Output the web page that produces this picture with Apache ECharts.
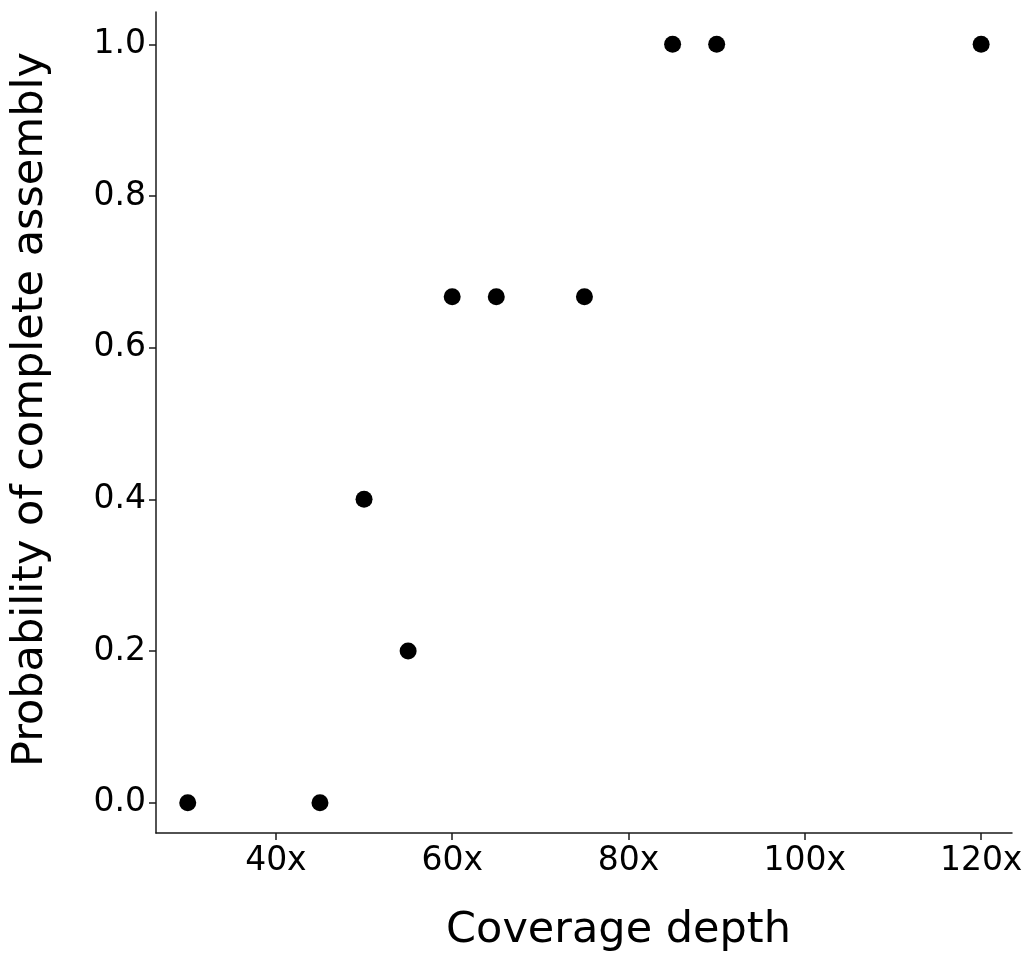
<!DOCTYPE html>
<html>
<head>
<meta charset="utf-8">
<script src="https://cdn.jsdelivr.net/npm/echarts@6/dist/echarts.min.js"></script>
<style>
html,body{margin:0;padding:0;background:#fff;}
#chart{width:1028px;height:956px;}
</style>
</head>
<body>
<div id="chart"></div>
<script>
const coverage = [30, 45, 50, 55, 60, 65, 75, 85, 90, 120];
const probability = [0.0, 0.0, 0.4, 0.2, 0.667, 0.667, 0.667, 1.0, 1.0, 1.0];
const xTicks = [40, 60, 80, 100, 120];
const yTicks = [0.0, 0.2, 0.4, 0.6, 0.8, 1.0];
const xTitle = 'Coverage depth';
const yTitle = 'Probability of complete assembly';

const points = coverage.map((c, i) => [c, probability[i]]);
const font = 'DejaVu Sans';
const axisColor = '#1a1a1a';

const chart = echarts.init(document.getElementById('chart'), null, {renderer: 'canvas'});
chart.setOption({
  animation: false,
  backgroundColor: '#ffffff',
  grid: {left: 156, top: 12, right: 16, bottom: 123, containLabel: false, outerBoundsMode: 'none'},
  xAxis: {
    type: 'value',
    min: 26.4,
    max: 123.5,
    name: xTitle,
    nameLocation: 'middle',
    nameGap: 76,
    nameTextStyle: {fontFamily: font, fontSize: 43, color: '#000', padding: [0, 0, 0, 69]},
    axisLine: {show: true, onZero: false, lineStyle: {color: axisColor, width: 1.5}},
    axisTick: {show: true, length: 7, lineStyle: {color: axisColor, width: 1.5}, customValues: xTicks},
    axisLabel: {fontFamily: font, fontSize: 33, color: '#000', margin: 12, customValues: xTicks,
      formatter: v => v + 'x'},
    splitLine: {show: false}
  },
  yAxis: {
    type: 'value',
    min: -0.04,
    max: 1.0426,
    name: yTitle,
    nameLocation: 'middle',
    nameGap: 104,
    nameRotate: 90,
    nameTextStyle: {fontFamily: font, fontSize: 43, color: '#000', padding: [0, 0, 0, 26]},
    axisLine: {show: true, onZero: false, lineStyle: {color: axisColor, width: 1.5}},
    axisTick: {show: true, length: 7, lineStyle: {color: axisColor, width: 1.5}, customValues: yTicks},
    axisLabel: {fontFamily: font, fontSize: 33, color: '#000', margin: 10, customValues: yTicks,
      formatter: v => v.toFixed(1)},
    splitLine: {show: false}
  },
  series: [{
    type: 'scatter',
    data: points,
    symbol: 'circle',
    symbolSize: 17,
    itemStyle: {color: '#000', opacity: 1}
  }]
});
</script>
</body>
</html>
